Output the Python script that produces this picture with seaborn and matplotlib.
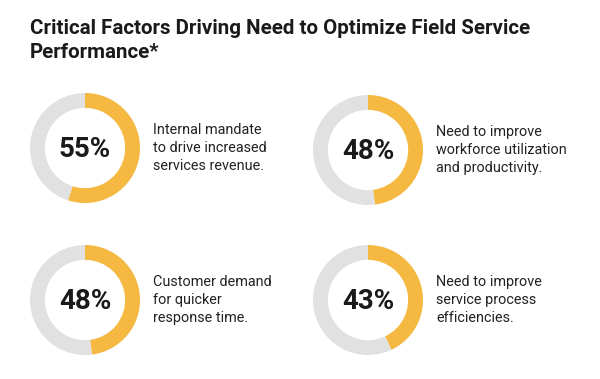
import matplotlib.pyplot as plt
import seaborn as sns

# data
shares = [55, 48, 48, 43]
value_labels = ["55%", "48%", "48%", "43%"]
descriptions = [
    "Internal mandate\nto drive increased\nservices revenue.",
    "Need to improve\nworkforce utilization\nand productivity.",
    "Customer demand\nfor quicker\nresponse time.",
    "Need to improve\nservice process\nefficiencies.",
]
title = "Critical Factors Driving Need to Optimize Field Service\nPerformance*"

sns.set_theme(style="white")
plt.rcParams['font.family'] = ['Roboto', 'DejaVu Sans']

W, H = 600, 379
fig = plt.figure(figsize=(W / 100, H / 100), dpi=100)
fig.patch.set_facecolor('white')

fig.text(30 / W, 1 - 19 / H, title, ha='left', va='top', fontsize=14.8,
         fontweight='bold', color='#1a1a1a', linespacing=1.35)

yellow = '#F5B841'
grey = '#E1E1E1'
centers = [(85, 148), (368, 150), (85, 300), (368, 300)]
radius = 55

for share, lab, desc, (cx, cy) in zip(shares, value_labels, descriptions, centers):
    ax = fig.add_axes([(cx - radius) / W, 1 - (cy + radius) / H,
                       2 * radius / W, 2 * radius / H])
    ax.pie([share, 100 - share], colors=[yellow, grey], startangle=90,
           counterclock=False, wedgeprops=dict(width=0.27, edgecolor='none'))
    ax.set_xlim(-1, 1)
    ax.set_ylim(-1, 1)
    ax.set_aspect('equal')
    ax.text(0, -0.02, lab, ha='center', va='center', fontsize=20,
            fontweight='bold', color='#1a1a1a')
    fig.text((cx + 68) / W, 1 - cy / H, desc, ha='left', va='center',
             fontsize=10.4, color='#222222', linespacing=1.4)

plt.savefig('out.png', dpi=100)
plt.close()
